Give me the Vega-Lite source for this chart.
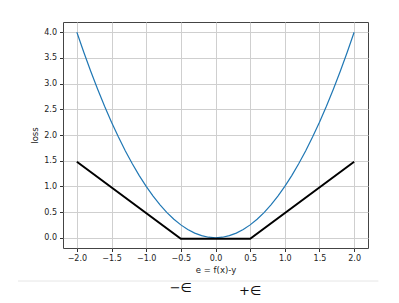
{
  "$schema": "https://vega.github.io/schema/vega-lite/v6.json",
  "width": 305,
  "height": 226,
  "autosize": "none",
  "padding": {"left": 63, "top": 22, "right": 31, "bottom": 55},
  "background": "white",
  "datasets": {
    "quad": [
      {"x": -2.0, "y": 4.0}, {"x": -1.9, "y": 3.61}, {"x": -1.8, "y": 3.24}, {"x": -1.7, "y": 2.89},
      {"x": -1.6, "y": 2.56}, {"x": -1.5, "y": 2.25}, {"x": -1.4, "y": 1.96}, {"x": -1.3, "y": 1.69},
      {"x": -1.2, "y": 1.44}, {"x": -1.1, "y": 1.21}, {"x": -1.0, "y": 1.0}, {"x": -0.9, "y": 0.81},
      {"x": -0.8, "y": 0.64}, {"x": -0.7, "y": 0.49}, {"x": -0.6, "y": 0.36}, {"x": -0.5, "y": 0.25},
      {"x": -0.4, "y": 0.16}, {"x": -0.3, "y": 0.09}, {"x": -0.2, "y": 0.04}, {"x": -0.1, "y": 0.01},
      {"x": 0.0, "y": 0.0}, {"x": 0.1, "y": 0.01}, {"x": 0.2, "y": 0.04}, {"x": 0.3, "y": 0.09},
      {"x": 0.4, "y": 0.16}, {"x": 0.5, "y": 0.25}, {"x": 0.6, "y": 0.36}, {"x": 0.7, "y": 0.49},
      {"x": 0.8, "y": 0.64}, {"x": 0.9, "y": 0.81}, {"x": 1.0, "y": 1.0}, {"x": 1.1, "y": 1.21},
      {"x": 1.2, "y": 1.44}, {"x": 1.3, "y": 1.69}, {"x": 1.4, "y": 1.96}, {"x": 1.5, "y": 2.25},
      {"x": 1.6, "y": 2.56}, {"x": 1.7, "y": 2.89}, {"x": 1.8, "y": 3.24}, {"x": 1.9, "y": 3.61},
      {"x": 2.0, "y": 4.0}
    ],
    "eps": [
      {"x": -2.0, "y": 1.48}, {"x": -0.5, "y": -0.02}, {"x": 0.5, "y": -0.02}, {"x": 2.0, "y": 1.48}
    ],
    "labels": [
      {"x": -0.5, "y": -0.98, "label": "−∈"},
      {"x": 0.5, "y": -1.03, "label": "+∈"}
    ],
    "sep": [
      {"x": -2.85, "x2": 2.35, "y": -0.843}
    ]
  },
  "encoding": {
    "x": {
      "field": "x", "type": "quantitative",
      "scale": {"domain": [-2.2, 2.2], "nice": false, "zero": false},
      "axis": {"values": [-2, -1.5, -1, -0.5, 0, 0.5, 1, 1.5, 2], "tickCount": 9, "format": ".1f", "title": "e = f(x)-y", "labelFlush": false, "labelOverlap": false, "titlePadding": 3}
    },
    "y": {
      "field": "y", "type": "quantitative",
      "scale": {"domain": [-0.2, 4.2], "nice": false, "zero": false},
      "axis": {"values": [0, 0.5, 1, 1.5, 2, 2.5, 3, 3.5, 4], "tickCount": 9, "format": ".1f", "title": "loss", "labelFlush": false, "labelOverlap": false, "titlePadding": 4}
    }
  },
  "layer": [
    {
      "data": {"name": "quad"},
      "mark": {"type": "line", "color": "#1f77b4", "strokeWidth": 1.2}
    },
    {
      "data": {"name": "eps"},
      "mark": {"type": "line", "color": "black", "strokeWidth": 2}
    },
    {
      "data": {"name": "sep"},
      "mark": {"type": "rule", "color": "#e6e6e6", "strokeWidth": 1},
      "encoding": {
        "x2": {"field": "x2"}
      }
    },
    {
      "data": {"name": "labels"},
      "mark": {"type": "text", "font": "DejaVu Sans", "fontSize": 13, "color": "#111", "baseline": "middle", "align": "center"},
      "encoding": {
        "text": {"field": "label"}
      }
    }
  ],
  "config": {
    "view": {"stroke": "#444", "strokeWidth": 1},
    "axis": {
      "labelFont": "DejaVu Sans",
      "titleFont": "DejaVu Sans",
      "labelFontSize": 8,
      "titleFontSize": 8.5,
      "titleFontWeight": "normal",
      "labelColor": "#222",
      "titleColor": "#222",
      "tickColor": "#333",
      "tickSize": 3.5,
      "labelPadding": 3,
      "domain": false,
      "grid": true,
      "gridColor": "#cfcfcf",
      "gridWidth": 1
    }
  }
}
